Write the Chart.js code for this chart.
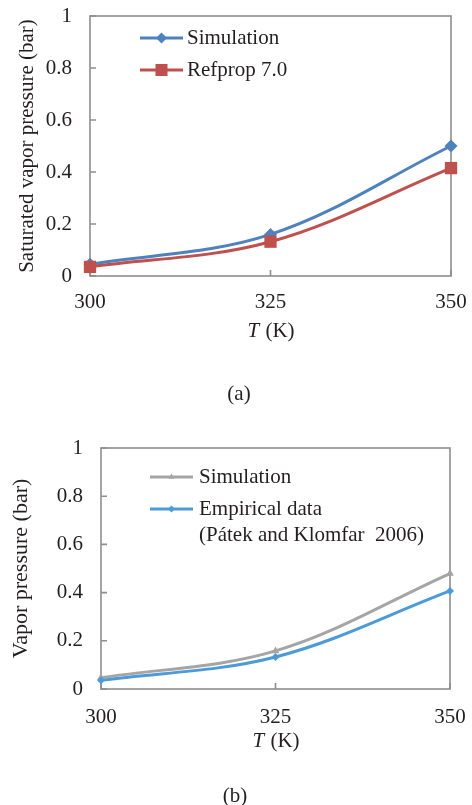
<!DOCTYPE html>
<html><head><meta charset="utf-8">
<script src="https://cdn.jsdelivr.net/npm/chart.js@4.4.1/dist/chart.umd.min.js"></script>
<style>
html,body{margin:0;padding:0;background:#fff;}
#wrap{position:relative;width:472px;height:805px;overflow:hidden;background:#fff;}
canvas{position:absolute;left:0;}
.cap{position:absolute;transform:translate(-50%,-50%);font-family:'Liberation Serif','Times New Roman',serif;font-size:21px;color:#231F20;white-space:nowrap;line-height:1;}
</style></head><body>
<div id="wrap">
<canvas id="ca" width="472" height="400" style="top:0"></canvas>
<canvas id="cb" width="472" height="405" style="top:400px"></canvas>
<div class="cap" style="left:239px;top:393px">(a)</div>
<div class="cap" style="left:235px;top:795px">(b)</div>
</div>
<script>
// ---- data ----
const temps = [300, 325, 350];
const simA = [0.045, 0.16, 0.5];
const refpropA = [0.035, 0.132, 0.415];
const simB = [0.047, 0.158, 0.479];
const empB = [0.036, 0.133, 0.407];
const yTickLabels = ['0', '0.2', '0.4', '0.6', '0.8', '1'];
const xTickLabels = ['300', '325', '350'];
const labelsA = ['Simulation', 'Refprop 7.0'];
const labelsB = ['Simulation', ['Empirical data', '(Pátek and Klomfar  2006)']];
const yTitleA = 'Saturated vapor pressure (bar)';
const yTitleB = 'Vapor pressure (bar)';
const xTitleItalic = 'T';
const xTitleRest = ' (K)';

const FONT = "'Liberation Serif', 'Times New Roman', serif";
const TXT = '#231F20';
Chart.defaults.font.family = FONT;
Chart.defaults.color = TXT;

function pts(ys) { return temps.map((x, i) => ({ x: x, y: ys[i] })); }

function marker(ctx, style, r, x, y, color) {
  ctx.fillStyle = color;
  ctx.beginPath();
  if (style === 'rectRot') {
    ctx.moveTo(x, y - r); ctx.lineTo(x + r, y); ctx.lineTo(x, y + r); ctx.lineTo(x - r, y); ctx.closePath();
  } else if (style === 'rect') {
    const s = r / Math.SQRT2; ctx.rect(x - s, y - s, 2 * s, 2 * s);
  } else if (style === 'triangle') {
    for (let k = 0; k < 3; k++) {
      const a = -Math.PI / 2 + k * 2 * Math.PI / 3;
      const px = x + Math.cos(a) * r, py = y + Math.sin(a) * r;
      if (k === 0) ctx.moveTo(px, py); else ctx.lineTo(px, py);
    }
    ctx.closePath();
  } else {
    ctx.arc(x, y, r, 0, Math.PI * 2);
  }
  ctx.fill();
}

const framePlugin = {
  id: 'frame',
  beforeDatasetsDraw(chart, args, opts) {
    const { ctx, chartArea: a, scales } = chart;
    ctx.save();
    ctx.strokeStyle = opts.color; ctx.lineWidth = opts.width;
    ctx.strokeRect(a.left, a.top, a.right - a.left, a.bottom - a.top);
    const L = opts.tick;
    ctx.beginPath();
    scales.y.ticks.forEach(t => { const p = scales.y.getPixelForValue(t.value); ctx.moveTo(a.left, p); ctx.lineTo(a.left + L, p); });
    scales.x.ticks.forEach(t => { const p = scales.x.getPixelForValue(t.value); ctx.moveTo(p, a.bottom); ctx.lineTo(p, a.bottom - L); });
    ctx.stroke();
    ctx.restore();
  }
};

const legendPlugin = {
  id: 'inLegend',
  afterDatasetsDraw(chart, args, o) {
    const ctx = chart.ctx;
    ctx.save();
    ctx.font = o.fontSize + 'px ' + FONT;
    ctx.textBaseline = 'middle';
    ctx.textAlign = 'left';
    chart.data.datasets.forEach((ds, i) => {
      const y = o.ys[i];
      ctx.strokeStyle = ds.borderColor; ctx.lineWidth = ds.borderWidth;
      ctx.beginPath(); ctx.moveTo(o.x0, y); ctx.lineTo(o.x1, y); ctx.stroke();
      marker(ctx, ds.pointStyle, o.radii[i], (o.x0 + o.x1) / 2, y, ds.backgroundColor);
      ctx.fillStyle = TXT;
      const lines = Array.isArray(ds.label) ? ds.label : [ds.label];
      lines.forEach((t, k) => ctx.fillText(t, o.textX, y + k * o.lineGap));
    });
    ctx.restore();
  }
};

const xTitlePlugin = {
  id: 'xTitle',
  afterDraw(chart, args, o) {
    const { ctx, chartArea: a, scales } = chart;
    const cx = scales.x.getPixelForValue(temps[1]);
    const y = a.bottom + o.offset;
    ctx.save();
    ctx.fillStyle = TXT; ctx.textBaseline = 'middle'; ctx.textAlign = 'left';
    const fi = 'italic ' + o.fontSize + 'px ' + FONT, fr = o.fontSize + 'px ' + FONT;
    ctx.font = fi; const w1 = ctx.measureText(xTitleItalic).width;
    ctx.font = fr; const w2 = ctx.measureText(xTitleRest).width;
    const x0 = cx - (w1 + w2) / 2;
    ctx.font = fi; ctx.fillText(xTitleItalic, x0, y);
    ctx.font = fr; ctx.fillText(xTitleRest, x0 + w1 + 1, y);
    ctx.restore();
  }
};

function noPad(s) { s.paddingLeft = 0; s.paddingRight = 0; s.paddingTop = 0; s.paddingBottom = 0; }

function makeChart(id, datasets, cfg) {
  return new Chart(document.getElementById(id), {
    type: 'line',
    data: { datasets: datasets },
    plugins: [framePlugin, legendPlugin, xTitlePlugin],
    options: {
      responsive: false, animation: false, devicePixelRatio: 1,
      layout: { padding: cfg.padding },
      plugins: {
        legend: { display: false }, tooltip: { enabled: false },
        frame: { color: '#8E8E8E', width: 1.6, tick: 6 },
        inLegend: cfg.legend,
        xTitle: { offset: cfg.xTitleOffset, fontSize: 21 }
      },
      scales: {
        x: {
          type: 'linear', min: 300, max: 350,
          grid: { display: false, drawTicks: false, tickLength: 0 }, border: { display: false },
          ticks: { stepSize: 25, padding: cfg.xPad, font: { size: 21 }, color: TXT, maxRotation: 0,
            callback: v => xTickLabels[Math.round((v - 300) / 25)] },
          afterFit: s => { s.height = 50; noPad(s); }
        },
        y: {
          min: 0, max: 1,
          grid: { display: false, drawTicks: false, tickLength: 0 }, border: { display: false },
          ticks: { stepSize: 0.2, padding: 18, font: { size: 21 }, color: TXT,
            callback: v => yTickLabels[Math.round(v / 0.2)] },
          title: { display: true, text: cfg.yTitle, font: { size: cfg.yTitleSize }, color: TXT,
            padding: { top: cfg.yTitlePad, bottom: 0 } },
          afterFit: s => { s.width = cfg.yWidth; noPad(s); }
        }
      }
    }
  });
}

makeChart('ca', [
  { label: labelsA[0], data: pts(simA), borderColor: '#4F81BD', backgroundColor: '#4F81BD', borderWidth: 3,
    pointStyle: 'rectRot', pointRadius: 6.5, pointBorderWidth: 0, tension: 0.35, clip: false, order: 1 },
  { label: labelsA[1], data: pts(refpropA), borderColor: '#C0504D', backgroundColor: '#C0504D', borderWidth: 3,
    pointStyle: 'rect', pointRadius: 8.7, pointBorderWidth: 0, tension: 0.35, clip: false, order: 0 }
], {
  padding: { left: 0, top: 16, right: 21, bottom: 74 },
  yWidth: 90, yTitle: yTitleA, yTitleSize: 21, yTitlePad: 15, xPad: 14, xTitleOffset: 55,
  legend: { x0: 140, x1: 183, textX: 187, ys: [38, 70], lineGap: 26, fontSize: 21, radii: [5.5, 8.5] }
});

makeChart('cb', [
  { label: labelsB[0], data: pts(simB), borderColor: '#A5A5A5', backgroundColor: '#A5A5A5', borderWidth: 3,
    pointStyle: 'triangle', pointRadius: 4.5, pointBorderWidth: 0, tension: 0.35, clip: false, order: 1 },
  { label: labelsB[1], data: pts(empB), borderColor: '#4C9BD8', backgroundColor: '#4C9BD8', borderWidth: 3,
    pointStyle: 'rectRot', pointRadius: 4, pointBorderWidth: 0, tension: 0.35, clip: false, order: 0 }
], {
  padding: { left: 0, top: 48, right: 22, bottom: 66 },
  yWidth: 101, yTitle: yTitleB, yTitleSize: 22, yTitlePad: 8, xPad: 16, xTitleOffset: 52,
  legend: { x0: 150, x1: 193, textX: 199, ys: [77, 109], lineGap: 26, fontSize: 21, radii: [3.5, 3.5] }
});
</script>
</body></html>
